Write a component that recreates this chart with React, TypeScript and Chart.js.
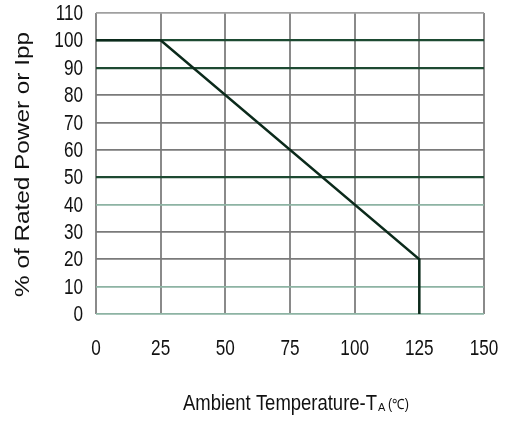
import React, { useEffect, useRef } from "react";
import { Chart, registerables } from "chart.js";

Chart.register(...registerables);

const temperatures = [0, 25, 125, 125];
const ratedPercent = [100, 100, 20, 0];
const xTicks = [0, 25, 50, 75, 100, 125, 150];
const yTicks = [0, 10, 20, 30, 40, 50, 60, 70, 80, 90, 100, 110];
const xTitleMain = "Ambient Temperature-T";
const xTitleSub = "A";
const xTitleUnit = "(\u2103)";
const yTitle = "% of Rated Power or Ipp";

const W = 508;
const H = 422;
const FONT = "'Liberation Sans', Arial, sans-serif";

function yGridColor(v: number): string {
  if (v === 100 || v === 90 || v === 50) return "#1d4a32";
  if (v === 40 || v === 10 || v === 0) return "#8db3a3";
  if (v === 110) return "#a0a0a0";
  return "#7a7a7a";
}

function drawCondensed(
  ctx: CanvasRenderingContext2D,
  text: string,
  x: number,
  y: number,
  sx: number,
  align: "left" | "center" | "right"
) {
  const w = ctx.measureText(text).width * sx;
  let left = x;
  if (align === "center") left = x - w / 2;
  else if (align === "right") left = x - w;
  ctx.save();
  ctx.translate(left, y);
  ctx.scale(sx, 1);
  ctx.textAlign = "left";
  ctx.fillText(text, 0, 0);
  ctx.restore();
}

const labelPlugin = {
  id: "labels",
  afterDraw(chart: any) {
    const ctx = chart.ctx as CanvasRenderingContext2D;
    const xs = chart.scales.x;
    const ys = chart.scales.y;
    ctx.save();
    ctx.fillStyle = "#111";
    ctx.textBaseline = "middle";
    ctx.font = "22px " + FONT;
    ys.ticks.forEach((t: any) => {
      drawCondensed(ctx, String(t.value), 83, ys.getPixelForValue(t.value) + 1, 0.78, "right");
    });
    xs.ticks.forEach((t: any) => {
      drawCondensed(ctx, String(t.value), xs.getPixelForValue(t.value), 349, 0.78, "center");
    });

    ctx.textBaseline = "alphabetic";
    // x title
    ctx.font = "22px " + FONT;
    const mw = ctx.measureText(xTitleMain).width;
    drawCondensed(ctx, xTitleMain, 183, 410, 194 / mw, "left");
    ctx.font = "11px " + FONT;
    ctx.fillText(xTitleSub, 378, 411);
    ctx.font = "14px " + FONT;
    drawCondensed(ctx, xTitleUnit, 388, 409, 0.9, "left");
    // y title
    ctx.font = "20px " + FONT;
    const yw = ctx.measureText(yTitle).width;
    ctx.save();
    ctx.translate(29, 297);
    ctx.rotate(-Math.PI / 2);
    ctx.scale(265 / yw, 1);
    ctx.fillText(yTitle, 0, 0);
    ctx.restore();
    ctx.restore();
  },
};

export default function App() {
  const ref = useRef<HTMLCanvasElement | null>(null);
  useEffect(() => {
    document.body.style.margin = "0";
    const canvas = ref.current!;
    const chart = new Chart(canvas, {
      type: "scatter",
      data: {
        datasets: [
          {
            data: temperatures.map((t, i) => ({ x: t, y: ratedPercent[i] })),
            showLine: true,
            borderColor: "#0b2a1b",
            borderWidth: 2.5,
            pointRadius: 0,
            fill: false,
            tension: 0,
          },
        ],
      },
      options: {
        animation: false,
        responsive: false,
        devicePixelRatio: 1,
        layout: { padding: { top: 13, right: 24, left: 0, bottom: 0 } },
        plugins: { legend: { display: false }, tooltip: { enabled: false } },
        scales: {
          x: {
            type: "linear",
            min: 0,
            max: 150,
            afterBuildTicks: (s: any) => {
              s.ticks = xTicks.map((v) => ({ value: v }));
            },
            afterFit: (s: any) => {
              s.height = H - 314;
              s.paddingLeft = 0;
              s.paddingRight = 0;
            },
            border: { display: false },
            grid: {
              color: "#8a8a8a",
              lineWidth: 2,
              drawTicks: false,
            },
            ticks: { display: false },
          },
          y: {
            type: "linear",
            min: 0,
            max: 110,
            afterBuildTicks: (s: any) => {
              s.ticks = yTicks.map((v) => ({ value: v }));
            },
            afterFit: (s: any) => {
              s.width = 96;
              s.paddingTop = 0;
              s.paddingBottom = 0;
            },
            border: { display: false },
            grid: {
              color: (c: any) => yGridColor(c.tick ? c.tick.value : 0),
              lineWidth: (c: any) => {
                const v = c.tick ? c.tick.value : 0;
                return v === 100 || v === 90 || v === 50 ? 2.2 : 1.8;
              },
              drawTicks: false,
            },
            ticks: { display: false },
          },
        },
      },
      plugins: [labelPlugin],
    } as any);
    return () => chart.destroy();
  }, []);
  return (
    <div style={{ width: W, height: H }}>
      <canvas ref={ref} width={W} height={H} style={{ width: W, height: H, display: "block" }} />
    </div>
  );
}
